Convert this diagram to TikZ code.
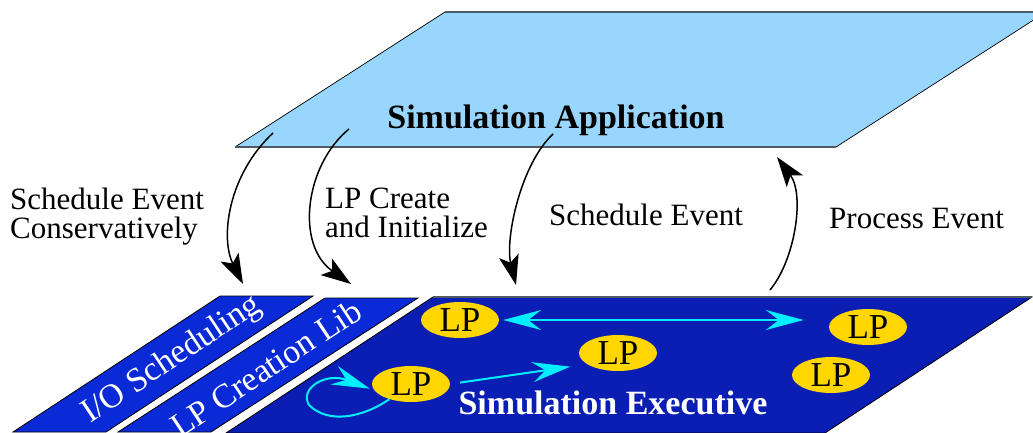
\documentclass[tikz,border=0pt]{standalone}
\usepackage{fontspec}
\setmainfont{Liberation Serif}
\usetikzlibrary{arrows.meta,shapes.geometric}
\definecolor{appblue}{RGB}{152,214,253}
\definecolor{libblue}{RGB}{10,42,216}
\definecolor{exeblue}{RGB}{10,30,180}
\definecolor{lpyellow}{RGB}{255,214,0}
\definecolor{lpcyan}{RGB}{0,238,255}
\definecolor{edgegray}{RGB}{80,90,100}
\begin{document}
\begin{tikzpicture}[x=1pt,y=-1pt,
  plane/.style={draw=black, line width=0.8pt, line join=miter},
  lp/.style={ellipse, fill=lpyellow, minimum width=78pt, minimum height=36pt, inner sep=0pt, font=\fontsize{35}{35}\selectfont},
  callarrow/.style={-{Stealth[length=30pt,width=20pt,inset=7pt]}, line width=1.5pt, black},
  cyantip/.style={Stealth[length=38pt,width=20pt,inset=13pt]},
  msgarrow/.style={-{Stealth[length=38pt,width=20pt,inset=13pt]}, line width=2pt, lpcyan},
  lbl/.style={font=\fontsize{31}{29}\selectfont, inner sep=0pt, align=left},
  title/.style={font=\fontsize{34}{34}\selectfont\bfseries, inner sep=0pt},
  libtext/.style={font=\fontsize{34}{34}\selectfont, text=white, inner sep=0pt, rotate=33.5}]
\clip (0,0) rectangle (1033,433);
\fill[white] (0,0) rectangle (1033,433);
% top plane
\fill[appblue] (445,12) -- (1046,12) -- (836,147) -- (235,147) -- cycle;
\draw[black, line width=0.7pt] (445,12) -- (235,147) (1046,12) -- (836,147);
\draw[edgegray, line width=1.4pt] (445,12) -- (1046,12) (235,147) -- (836,147);
\node[title] (app) at (556,120) {Simulation Application};
% bottom planes
\filldraw[plane, fill=libblue] (220,296) -- (313,296) -- (106,432) -- (13,432) -- cycle;
\filldraw[plane, fill=libblue] (325,298) -- (418,298) -- (211,432) -- (118,432) -- cycle;
\filldraw[plane, fill=exeblue] (433,297) -- (1032,297) -- (825,433) -- (226,433) -- cycle;
\draw[edgegray, line width=1.2pt] (433,297) -- (1032,297);
\node[libtext] (io) at (172,360) {I/O Scheduling};
\node[libtext] (lib) at (266,368) {LP Creation Lib};
\node[title, text=white] (exe) at (613,403) {Simulation Executive};
% LPs
\node[lp] (lp1) at (460,320) {LP};
\node[lp] (lp2) at (618,353) {LP};
\node[lp] (lp3) at (411,384) {LP};
\node[lp] (lp4) at (868,327) {LP};
\node[lp] (lp5) at (831,375) {LP};
% cyan messages
\draw[msgarrow, {Stealth[length=38pt,width=20pt,inset=13pt]}-{Stealth[length=38pt,width=20pt,inset=13pt]}, shorten <=4pt, shorten >=25pt] (lp1.east) -- (lp1.east -| lp4.west);
\draw[msgarrow, shorten <=10pt, shorten >=17pt] (lp3.east) -- (lp2.200);
\draw[msgarrow, shorten >=5pt] (lp3.215) .. controls (362,418) and (328,424) .. (309,405)
  .. controls (299,388) and (326,372) .. (lp3.190);
% calls between layers
\coordinate (s1) at (273,133); \coordinate (e1) at (243,284);
\coordinate (s2) at (349,129); \coordinate (e2) at (351,284);
\coordinate (s3) at (553,134); \coordinate (e3) at (516,285);
\coordinate (s4) at (770,290); \coordinate (e4) at (777,157);
\draw[callarrow] (s1) .. controls (228,175) and (220,238) .. (e1);
\draw[callarrow] (s2) .. controls (305,165) and (295,245) .. (e2);
\draw[callarrow] (s3) .. controls (520,165) and (505,240) .. (e3);
\draw[callarrow] (s4) .. controls (795,260) and (805,195) .. (e4);
% labels
\node[lbl, anchor=base west] (lseq) at (10,238) {Schedule Event\\Conservatively};
\node[lbl, anchor=base west] (llp) at (325,237) {LP Create\\and Initialize};
\node[lbl, anchor=base west] (lsch) at (549,225) {Schedule Event};
\node[lbl, anchor=base west] (lproc) at (829,228) {Process Event};
\end{tikzpicture}
\end{document}
